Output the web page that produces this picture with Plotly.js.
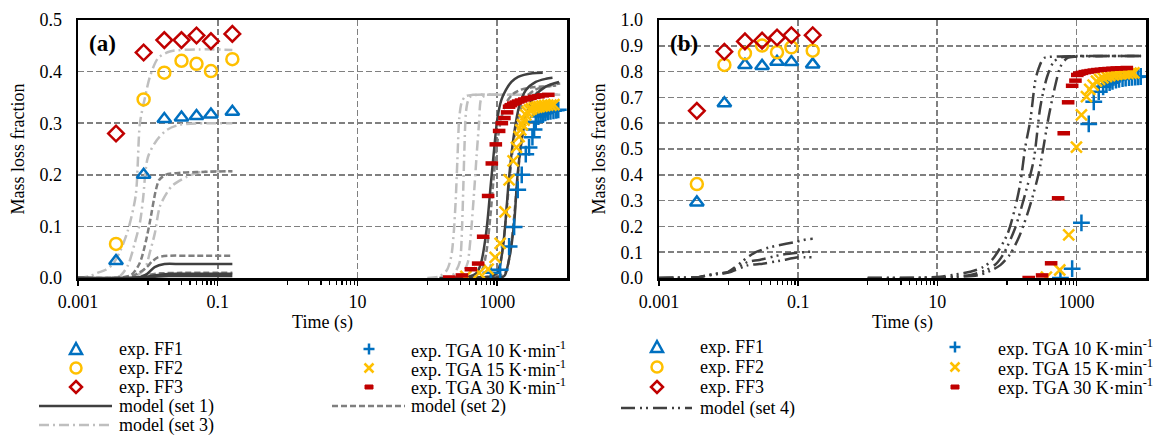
<!DOCTYPE html>
<html><head><meta charset="utf-8">
<script src="https://cdn.plot.ly/plotly-3.0.1.min.js"></script>
<style>html,body{margin:0;padding:0;background:#fff}#chart{width:1160px;height:435px}</style>
</head><body><div id="chart"></div>
<script>
// ================= DATA =================
// Flash-furnace (FF) experiments: residence times (s)
const ffTime = [0.0035, 0.0087, 0.0172, 0.0303, 0.0497, 0.080, 0.162];
// panel (a)
const aFF1 = [0.033, 0.200, 0.308, 0.311, 0.314, 0.317, 0.322];
const aFF2 = [0.066, 0.346, 0.398, 0.421, 0.415, 0.401, 0.424];
const aFF3 = [0.280, 0.437, 0.461, 0.461, 0.470, 0.459, 0.473];
// panel (b)
const bFF1 = [0.293, 0.677, 0.826, 0.822, 0.838, 0.837, 0.828];
const bFF2 = [0.364, 0.826, 0.871, 0.901, 0.875, 0.894, 0.881];
const bFF3 = [0.648, 0.877, 0.917, 0.920, 0.932, 0.941, 0.941];

// TGA experiments, panel (a)
const aT10x = [813, 1104, 1484, 1750, 1972, 2249, 2570, 2864, 3199, 3380, 3573, 3890, 4200, 4540, 4900, 5300, 5800, 6400, 7000, 7500];
const aT10y = [0.010, 0.016, 0.061, 0.099, 0.171, 0.200, 0.240, 0.253, 0.273, 0.288, 0.303, 0.313, 0.316, 0.319, 0.320, 0.322, 0.323, 0.324, 0.325, 0.326];
const aT15x = [357, 553, 743, 936, 1104, 1300, 1484, 1693, 1889, 2061, 2178, 2300, 2430, 2570, 2700, 2900, 3100, 3400, 3700, 4000, 4400, 4800, 5300, 5900, 6500];
const aT15y = [0.003, 0.010, 0.017, 0.040, 0.067, 0.128, 0.190, 0.227, 0.253, 0.274, 0.287, 0.297, 0.306, 0.316, 0.322, 0.326, 0.328, 0.330, 0.331, 0.332, 0.333, 0.334, 0.335, 0.335, 0.336];
const aT30x = [206, 313, 421, 535, 631, 743, 839, 957, 1068, 1167, 1271, 1389, 1483, 1580, 1700, 1850, 2000, 2200, 2450, 2700, 3000, 3400, 3900, 4500, 5400];
const aT30y = [0.001, 0.005, 0.017, 0.028, 0.080, 0.159, 0.222, 0.259, 0.285, 0.300, 0.310, 0.321, 0.332, 0.335, 0.338, 0.340, 0.342, 0.344, 0.346, 0.348, 0.349, 0.351, 0.352, 0.354, 0.355];

// TGA experiments, panel (b)
const bT10x = [589, 868, 1180, 1503, 1775, 2094, 2420, 2700, 3000, 3300, 3700, 4100, 4600, 5100, 5700, 6300, 7000, 7700, 8400];
const bT10y = [0.000, 0.036, 0.214, 0.597, 0.683, 0.722, 0.741, 0.750, 0.757, 0.762, 0.767, 0.770, 0.773, 0.775, 0.777, 0.778, 0.779, 0.780, 0.781];
const bT15x = [370, 576, 775, 1000, 1180, 1393, 1553, 1737, 1940, 2150, 2400, 2700, 3000, 3400, 3800, 4300, 4900, 5500, 6100, 6700];
const bT15y = [0.003, 0.031, 0.167, 0.507, 0.632, 0.703, 0.731, 0.748, 0.763, 0.770, 0.776, 0.781, 0.784, 0.787, 0.789, 0.791, 0.792, 0.793, 0.794, 0.795];
const bT30x = [206, 321, 433, 546, 657, 760, 868, 968, 1030, 1100, 1200, 1320, 1450, 1600, 1780, 2000, 2250, 2550, 2900, 3300, 3800, 4400, 5300];
const bT30y = [0.000, 0.010, 0.057, 0.309, 0.561, 0.681, 0.745, 0.765, 0.787, 0.792, 0.795, 0.798, 0.800, 0.802, 0.804, 0.806, 0.807, 0.809, 0.810, 0.811, 0.812, 0.813, 0.814];

// Model (set 1), panel (a): FF curves
const s1F1x = [0.001, 0.005, 0.008, 0.0098, 0.0125, 0.0173, 0.03, 0.08, 0.162];
const s1F1y = [0, 0, 0.002, 0.008, 0.021, 0.027, 0.027, 0.027, 0.027];
const s1F2x = [0.001, 0.006, 0.009, 0.012, 0.016, 0.025, 0.08, 0.162];
const s1F2y = [0, 0, 0.002, 0.005, 0.007, 0.008, 0.008, 0.008];
const s1F3x = [0.001, 0.007, 0.010, 0.014, 0.020, 0.05, 0.162];
const s1F3y = [0, 0, 0.001, 0.003, 0.004, 0.004, 0.004];
// Model (set 1), panel (a): TGA curves
const s1T30x = [150, 300, 400, 500, 585, 700, 813, 906, 1011, 1150, 1330, 1600, 2000, 3200, 4500];
const s1T30y = [0, 0.001, 0.003, 0.009, 0.028, 0.090, 0.183, 0.250, 0.310, 0.345, 0.364, 0.380, 0.390, 0.397, 0.398];
const s1T15x = [200, 500, 800, 1000, 1100, 1259, 1484, 1750, 2061, 2570, 3573, 5000, 6200];
const s1T15y = [0, 0.001, 0.003, 0.010, 0.025, 0.080, 0.196, 0.280, 0.332, 0.364, 0.380, 0.386, 0.388];
const s1T10x = [300, 800, 1200, 1300, 1500, 1750, 1950, 2178, 2570, 3380, 4950, 7690];
const s1T10y = [0, 0.001, 0.002, 0.006, 0.040, 0.106, 0.196, 0.254, 0.313, 0.351, 0.371, 0.380];

// Model (set 2), panel (a)
const s2F1x = [0.001, 0.004, 0.0058, 0.0076, 0.009, 0.0106, 0.013, 0.0145, 0.018, 0.03, 0.08, 0.162];
const s2F1y = [0, 0.001, 0.006, 0.028, 0.061, 0.106, 0.170, 0.190, 0.200, 0.204, 0.206, 0.207];
const s2F2x = [0.001, 0.0035, 0.006, 0.0072, 0.0095, 0.0115, 0.0139, 0.0193, 0.05, 0.162];
const s2F2y = [0, 0, 0.004, 0.009, 0.020, 0.032, 0.040, 0.043, 0.043, 0.043];
const s2F3x = [0.001, 0.004, 0.007, 0.010, 0.015, 0.03, 0.162];
const s2F3y = [0, 0, 0.002, 0.006, 0.009, 0.010, 0.010];
const s2T30x = [150, 400, 600, 700, 800, 900, 1000, 1150, 1350, 1700, 2200, 3000, 4500, 6000];
const s2T30y = [0, 0.002, 0.015, 0.050, 0.120, 0.200, 0.260, 0.310, 0.340, 0.357, 0.365, 0.369, 0.371, 0.372];
const s2T15x = [250, 700, 1000, 1150, 1300, 1500, 1750, 2100, 2600, 3500, 5000, 7000];
const s2T15y = [0, 0.002, 0.010, 0.040, 0.100, 0.190, 0.270, 0.320, 0.350, 0.365, 0.371, 0.373];
const s2T10x = [300, 900, 1300, 1500, 1700, 1950, 2250, 2700, 3300, 4200, 5800, 8000];
const s2T10y = [0, 0.002, 0.010, 0.040, 0.100, 0.190, 0.270, 0.320, 0.350, 0.366, 0.374, 0.377];

// Model (set 3), panel (a)
const s3F1x = [0.001, 0.0015, 0.0019, 0.0025, 0.0032, 0.0041, 0.0052, 0.0067, 0.0077, 0.0091, 0.0107, 0.014, 0.0206, 0.055, 0.162];
const s3F1y = [0, 0.004, 0.010, 0.016, 0.028, 0.055, 0.093, 0.160, 0.300, 0.350, 0.390, 0.426, 0.439, 0.443, 0.442];
const s3F2x = [0.001, 0.003, 0.004, 0.0052, 0.0065, 0.0077, 0.0085, 0.010, 0.0134, 0.0187, 0.0286, 0.08, 0.162];
const s3F2y = [0, 0.001, 0.004, 0.025, 0.068, 0.107, 0.151, 0.234, 0.267, 0.287, 0.297, 0.300, 0.300];
const s3F3x = [0.001, 0.004, 0.0065, 0.0091, 0.0107, 0.0126, 0.0148, 0.0187, 0.0228, 0.0361, 0.0553, 0.162];
const s3F3y = [0, 0, 0.002, 0.019, 0.050, 0.087, 0.138, 0.165, 0.180, 0.196, 0.205, 0.207];
const s3T30x = [100, 150, 190, 210, 225, 240, 255, 270, 287, 310, 350, 450, 1000, 3000, 8000];
const s3T30y = [0, 0.003, 0.015, 0.030, 0.050, 0.090, 0.150, 0.230, 0.310, 0.340, 0.352, 0.355, 0.355, 0.355, 0.355];
const s3T15x = [150, 220, 260, 290, 303, 315, 327, 340, 357, 380, 420, 520, 1200, 4000, 8000];
const s3T15y = [0, 0.003, 0.015, 0.030, 0.050, 0.100, 0.170, 0.250, 0.320, 0.342, 0.352, 0.355, 0.355, 0.355, 0.355];
const s3T10x = [200, 280, 340, 380, 398, 430, 470, 510, 550, 585, 640, 750, 1500, 5000, 8000];
const s3T10y = [0, 0.003, 0.015, 0.030, 0.050, 0.100, 0.170, 0.240, 0.300, 0.345, 0.352, 0.355, 0.355, 0.355, 0.355];

// Model (set 4), panel (b)
const s4F1x = [0.001, 0.0018, 0.0037, 0.0051, 0.0074, 0.0099, 0.0193, 0.0246, 0.0347, 0.0467, 0.0957, 0.133, 0.162];
const s4F1y = [0, 0.001, 0.003, 0.012, 0.018, 0.024, 0.083, 0.100, 0.115, 0.124, 0.141, 0.150, 0.152];
const s4F2x = [0.001, 0.0018, 0.0037, 0.0051, 0.0074, 0.0099, 0.0193, 0.0277, 0.055, 0.100, 0.149, 0.162];
const s4F2y = [0, 0.001, 0.003, 0.011, 0.017, 0.023, 0.063, 0.070, 0.089, 0.098, 0.102, 0.102];
const s4F3x = [0.001, 0.0018, 0.0037, 0.0051, 0.0074, 0.0099, 0.0193, 0.0277, 0.055, 0.100, 0.160];
const s4F3y = [0, 0.001, 0.003, 0.010, 0.016, 0.021, 0.050, 0.054, 0.067, 0.080, 0.080];
const s4T30x = [1, 5, 11, 22.7, 29.9, 44, 61.2, 100.7, 132.5, 156, 184.5, 217.6, 257, 287, 339, 450, 1000, 3000, 8500];
const s4T30y = [0, 0.001, 0.005, 0.018, 0.024, 0.040, 0.070, 0.167, 0.276, 0.367, 0.509, 0.612, 0.767, 0.813, 0.852, 0.858, 0.860, 0.860, 0.860];
const s4T15x = [1, 8, 15, 30, 50, 70, 90.6, 130, 184.5, 243, 303, 379, 471, 600, 1000, 3000, 8500];
const s4T15y = [0, 0.001, 0.004, 0.012, 0.030, 0.055, 0.096, 0.190, 0.328, 0.457, 0.664, 0.780, 0.838, 0.855, 0.860, 0.860, 0.860];
const s4T10x = [1, 10, 20, 40, 60, 80.5, 110, 150, 206, 287, 399, 500, 589, 735, 1000, 3000, 8500];
const s4T10y = [0, 0.001, 0.004, 0.012, 0.030, 0.050, 0.090, 0.160, 0.264, 0.406, 0.625, 0.750, 0.819, 0.852, 0.858, 0.860, 0.860];

// Axis tick labels
const xTickVals = [0.001, 0.1, 10, 1000];
const xTickText = ['0.001', '0.1', '10', '1000'];
const xMinorVals = [0.01,0.02,0.03,0.04,0.05,0.06,0.07,0.08,0.09, 1,2,3,4,5,6,7,8,9, 100,200,300,400,500,600,700,800,900];

// ================= STYLES =================
const BLUE = '#0070C0', YEL = '#FFC000', RED = '#C00000';
const C1 = '#404040', C2 = '#7F7F7F', C3 = '#BFBFBF', C4 = '#404040';
const D2 = '6px,3px', D3 = '10px,4px,2px,4px', D4 = '14px,5px,2px,4px,2px,5px';
const FONT = 'Liberation Serif, Times New Roman, serif';
const LW = 2.5;

function line(x, y, color, dash, xa, ya) {
  return {x, y, xaxis: xa, yaxis: ya, type: 'scatter', mode: 'lines', showlegend: false, hoverinfo: 'skip',
          line: {color, width: LW, dash, shape: 'spline', smoothing: 0.8}};
}
function mk(x, y, symbol, color, size, lw, xa, ya) {
  return {x, y, xaxis: xa, yaxis: ya, type: 'scatter', mode: 'markers', showlegend: false,
          marker: {symbol, size, color, line: {color, width: lw}}};
}

const traces = [
  // panel (a) model lines
  line(s3F1x, s3F1y, C3, D3, 'x', 'y'), line(s3F2x, s3F2y, C3, D3, 'x', 'y'), line(s3F3x, s3F3y, C3, D3, 'x', 'y'),
  line(s3T30x, s3T30y, C3, D3, 'x', 'y'), line(s3T15x, s3T15y, C3, D3, 'x', 'y'), line(s3T10x, s3T10y, C3, D3, 'x', 'y'),
  line(s2F1x, s2F1y, C2, D2, 'x', 'y'), line(s2F2x, s2F2y, C2, D2, 'x', 'y'), line(s2F3x, s2F3y, C2, D2, 'x', 'y'),
  line(s2T30x, s2T30y, C2, D2, 'x', 'y'), line(s2T15x, s2T15y, C2, D2, 'x', 'y'), line(s2T10x, s2T10y, C2, D2, 'x', 'y'),
  line(s1F1x, s1F1y, C1, 'solid', 'x', 'y'), line(s1F2x, s1F2y, C1, 'solid', 'x', 'y'), line(s1F3x, s1F3y, C1, 'solid', 'x', 'y'),
  line(s1T30x, s1T30y, C1, 'solid', 'x', 'y'), line(s1T15x, s1T15y, C1, 'solid', 'x', 'y'), line(s1T10x, s1T10y, C1, 'solid', 'x', 'y'),
  // panel (a) experiments
  mk(ffTime, aFF1, 'triangle-up-open', BLUE, 12, 2.5, 'x', 'y'),
  mk(ffTime, aFF2, 'circle-open', YEL, 12, 2.5, 'x', 'y'),
  mk(ffTime, aFF3, 'diamond-open', RED, 12, 2.5, 'x', 'y'),
  mk(aT10x, aT10y, 'cross-thin', BLUE, 12, 2.5, 'x', 'y'),
  mk(aT15x, aT15y, 'x-thin', YEL, 11, 2.5, 'x', 'y'),
  mk(aT30x, aT30y, 'line-ew', RED, 9, 4.5, 'x', 'y'),
  // panel (b) model lines
  line(s4F1x, s4F1y, C4, D4, 'x2', 'y2'), line(s4F2x, s4F2y, C4, D4, 'x2', 'y2'), line(s4F3x, s4F3y, C4, D4, 'x2', 'y2'),
  line(s4T30x, s4T30y, C4, D4, 'x2', 'y2'), line(s4T15x, s4T15y, C4, D4, 'x2', 'y2'), line(s4T10x, s4T10y, C4, D4, 'x2', 'y2'),
  // panel (b) experiments
  mk(ffTime, bFF1, 'triangle-up-open', BLUE, 12, 2.5, 'x2', 'y2'),
  mk(ffTime, bFF2, 'circle-open', YEL, 12, 2.5, 'x2', 'y2'),
  mk(ffTime, bFF3, 'diamond-open', RED, 12, 2.5, 'x2', 'y2'),
  mk(bT10x, bT10y, 'cross-thin', BLUE, 12, 2.5, 'x2', 'y2'),
  mk(bT15x, bT15y, 'x-thin', YEL, 11, 2.5, 'x2', 'y2'),
  mk(bT30x, bT30y, 'line-ew', RED, 9, 4.5, 'x2', 'y2')
];

// ================= LAYOUT =================
const PL = 78, PR = 1146, PT = 20, PB = 278;       // plot-area pixel box
const PW = PR - PL, PH = PB - PT;
const X = px => (px - PL) / PW, Y = py => (PB - py) / PH;

const tickFont = {family: FONT, size: 18, color: '#000'};
function xAxis(dom, anchor) {
  return {type: 'log', domain: dom, anchor, range: [-3, 4], fixedrange: true,
    tickmode: 'array', tickvals: xTickVals, ticktext: xTickText,
    ticks: 'outside', ticklen: 5, tickwidth: 1.5, tickcolor: '#000',
    minor: {tickmode: 'array', tickvals: xMinorVals, ticks: 'outside', ticklen: 4, tickwidth: 1.3, tickcolor: '#000', showgrid: false},
    showline: true, linewidth: 2.5, linecolor: '#000', mirror: true,
    showgrid: true, gridcolor: '#808080', gridwidth: 1.6, griddash: D2, zeroline: false,
    tickfont: tickFont, ticklabelstandoff: 1,
    title: {text: 'Time (s)', font: tickFont, standoff: 0}};
}
// inside half of the crossing x ticks (overlay axis, no labels, no grid)
function xAxisIn(over, anchor) {
  return {type: 'log', overlaying: over, anchor, range: [-3, 4], fixedrange: true,
    tickmode: 'array', tickvals: xTickVals, showticklabels: false,
    ticks: 'inside', ticklen: 5, tickwidth: 1.5, tickcolor: '#000',
    minor: {tickmode: 'array', tickvals: xMinorVals, ticks: 'inside', ticklen: 4, tickwidth: 1.3, tickcolor: '#000', showgrid: false},
    showline: false, showgrid: false, zeroline: false};
}
function yAxis(max, anchor) {
  return {anchor, range: [0, max], dtick: 0.1, tickformat: '.1f', fixedrange: true,
    ticks: '', showline: true, linewidth: 2.5, linecolor: '#000', mirror: true,
    showgrid: true, gridcolor: '#808080', gridwidth: 1.6, griddash: D2, zeroline: false,
    tickfont: tickFont, ticklabelstandoff: 10,
    title: {text: 'Mass loss fraction', font: tickFont, standoff: 10}};
}

// ----- hand-made legends (shapes + text) -----
const shapes = [], annotations = [];
function pth(pts, closed) {
  return pts.map((p, i) => (i ? 'L' : 'M') + X(p[0]).toFixed(5) + ',' + Y(p[1]).toFixed(5)).join(' ') + (closed ? ' Z' : '');
}
function keyLine(x0, x1, y, color, dash) {
  shapes.push({type: 'line', xref: 'paper', yref: 'paper', x0: X(x0), x1: X(x1), y0: Y(y), y1: Y(y), line: {color, width: LW, dash}});
}
function keyTri(cx, cy) { shapes.push({type: 'path', xref: 'paper', yref: 'paper', path: pth([[cx - 6, cy + 5], [cx + 6, cy + 5], [cx, cy - 6]], true), line: {color: BLUE, width: 2.5}}); }
function keyCirc(cx, cy) { shapes.push({type: 'circle', xref: 'paper', yref: 'paper', x0: X(cx - 5.5), x1: X(cx + 5.5), y0: Y(cy + 5.5), y1: Y(cy - 5.5), line: {color: YEL, width: 2.5}}); }
function keyDia(cx, cy) { shapes.push({type: 'path', xref: 'paper', yref: 'paper', path: pth([[cx, cy - 6], [cx + 6, cy], [cx, cy + 6], [cx - 6, cy]], true), line: {color: RED, width: 2.5}}); }
function keyPlus(cx, cy) { shapes.push({type: 'path', xref: 'paper', yref: 'paper', path: pth([[cx - 5.5, cy], [cx + 5.5, cy]]) + ' ' + pth([[cx, cy - 5.5], [cx, cy + 5.5]]), line: {color: BLUE, width: 2.5}}); }
function keyX(cx, cy) { shapes.push({type: 'path', xref: 'paper', yref: 'paper', path: pth([[cx - 4.5, cy - 4.5], [cx + 4.5, cy + 4.5]]) + ' ' + pth([[cx - 4.5, cy + 4.5], [cx + 4.5, cy - 4.5]]), line: {color: YEL, width: 2.5}}); }
function keyDash(cx, cy) { shapes.push({type: 'rect', xref: 'paper', yref: 'paper', x0: X(cx - 4), x1: X(cx + 4), y0: Y(cy + 2), y1: Y(cy - 2), fillcolor: RED, line: {color: RED, width: 1}}); }
function keyText(x, y, text) {
  annotations.push({xref: 'paper', yref: 'paper', x: X(x), y: Y(y), xanchor: 'left', yanchor: 'middle', showarrow: false, text, font: {family: FONT, size: 18, color: '#000'}});
}

// legend (a)
const ra = [349, 368, 387, 406, 425];
keyTri(76, ra[0]); keyText(117, ra[0], 'exp. FF1');
keyCirc(76, ra[1]); keyText(117, ra[1], 'exp. FF2');
keyDia(76, ra[2]); keyText(117, ra[2], 'exp. FF3');
keyLine(39, 112, ra[3], C1, 'solid'); keyText(117, ra[3], 'model (set 1)');
keyLine(39, 112, ra[4], C3, D3); keyText(117, ra[4], 'model (set 3)');
keyPlus(369, ra[0]); keyText(409, ra[0], 'exp. TGA 10 K·min<sup>-1</sup>');
keyX(369, ra[1]); keyText(409, ra[1], 'exp. TGA 15 K·min<sup>-1</sup>');
keyDash(369, ra[2]); keyText(409, ra[2], 'exp. TGA 30 K·min<sup>-1</sup>');
keyLine(332, 405, ra[3], C2, D2); keyText(409, ra[3], 'model (set 2)');
// legend (b)
const rb = [347, 367, 387, 408];
keyTri(657, rb[0]); keyText(698, rb[0], 'exp. FF1');
keyCirc(657, rb[1]); keyText(698, rb[1], 'exp. FF2');
keyDia(657, rb[2]); keyText(698, rb[2], 'exp. FF3');
keyLine(621, 692, rb[3], C4, D4); keyText(698, rb[3], 'model (set 4)');
keyPlus(955, rb[0]); keyText(996, rb[0], 'exp. TGA 10 K·min<sup>-1</sup>');
keyX(955, rb[1]); keyText(996, rb[1], 'exp. TGA 15 K·min<sup>-1</sup>');
keyDash(955, rb[2]); keyText(996, rb[2], 'exp. TGA 30 K·min<sup>-1</sup>');

// panel labels
annotations.push({xref: 'x domain', yref: 'y domain', x: 0.018, y: 0.91, xanchor: 'left', yanchor: 'middle', showarrow: false,
  text: '<b>(a)</b>', font: {family: FONT, size: 23, color: '#000'}});
annotations.push({xref: 'x2 domain', yref: 'y2 domain', x: 0.018, y: 0.91, xanchor: 'left', yanchor: 'middle', showarrow: false,
  text: '<b>(b)</b>', font: {family: FONT, size: 23, color: '#000'}});

const layout = {
  width: 1160, height: 435,
  margin: {l: PL, r: 1160 - PR, t: PT, b: 435 - PB, autoexpand: false},
  paper_bgcolor: '#fff', plot_bgcolor: '#fff',
  showlegend: false,
  font: {family: FONT, size: 18, color: '#000'},
  xaxis: xAxis([0, X(567)], 'y'),
  yaxis: yAxis(0.5, 'x'),
  xaxis2: xAxis([X(659), 1], 'y2'),
  yaxis2: yAxis(1.0, 'x2'),
  xaxis3: xAxisIn('x', 'y'),
  xaxis4: xAxisIn('x2', 'y2'),
  shapes, annotations
};

Plotly.newPlot('chart', traces, layout, {displayModeBar: false, staticPlot: true});
</script>
</body></html>
